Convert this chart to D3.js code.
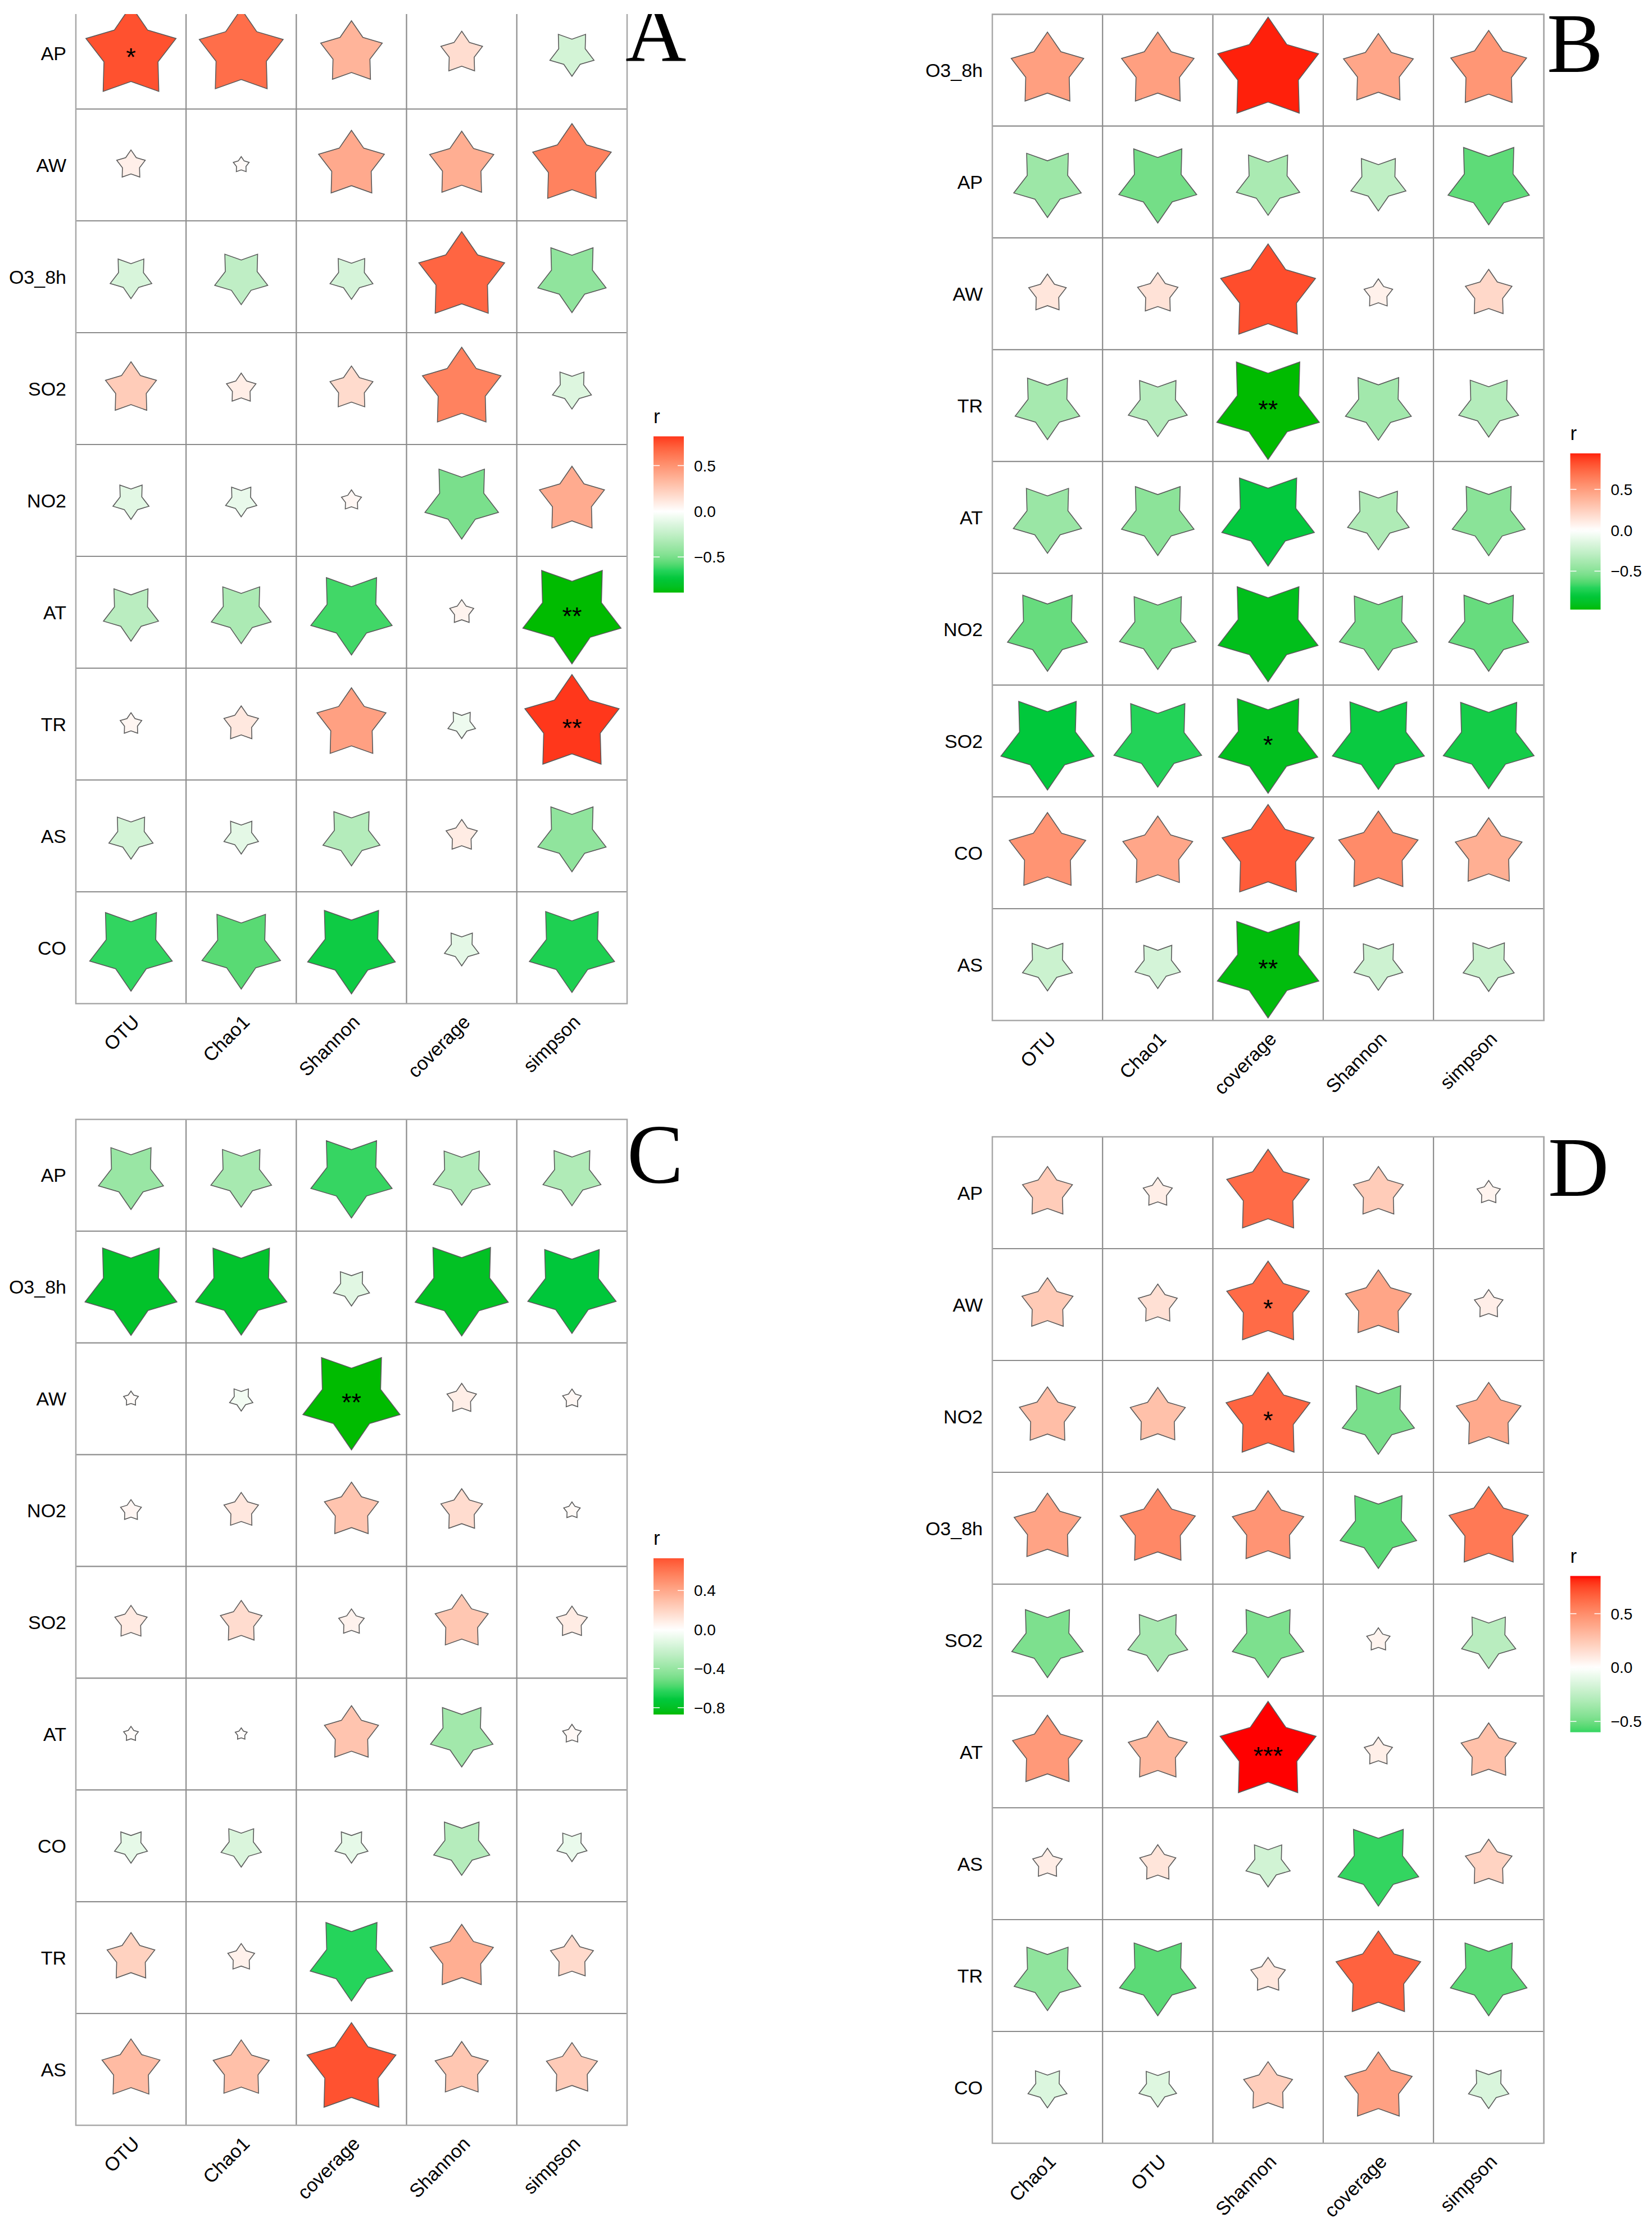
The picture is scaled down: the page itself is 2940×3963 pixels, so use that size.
<!DOCTYPE html>
<html><head><meta charset="utf-8">
<script src="https://cdn.jsdelivr.net/npm/d3@7"></script>
<style>body{margin:0;background:#fff}svg{display:block}</style>
</head><body>
<svg id="chart" width="2940" height="3963"></svg>
<script>
// ---------------- DATA ----------------
const rowsA = ["AP","AW","O3_8h","SO2","NO2","AT","TR","AS","CO"];
const colsA = ["OTU","Chao1","Shannon","coverage","simpson"];
const valuesA = [
  [0.75, 0.65, 0.35, 0.16, -0.18],
  [0.075, 0.023, 0.40, 0.38, 0.57],
  [-0.16, -0.26, -0.17, 0.68, -0.43],
  [0.24, 0.08, 0.17, 0.57, -0.14],
  [-0.12, -0.09, 0.037, -0.50, 0.39],
  [-0.28, -0.33, -0.61, 0.053, -0.89],
  [0.043, 0.11, 0.44, -0.07, 0.82],
  [-0.18, -0.11, -0.30, 0.09, -0.43],
  [-0.63, -0.57, -0.71, -0.11, -0.67]
];
const signifA = [
  ["*","","","",""],["","","","",""],["","","","",""],["","","","",""],["","","","",""],
  ["","","","","**"],["","","","","**"],["","","","",""],["","","","",""]
];
const ticksA = [-0.5, 0, 0.5];

const rowsB = ["O3_8h","AP","AW","TR","AT","NO2","SO2","CO","AS"];
const colsB = ["OTU","Chao1","coverage","Shannon","simpson"];
const valuesB = [
  [0.485, 0.485, 0.94, 0.45, 0.53],
  [-0.42, -0.56, -0.37, -0.28, -0.61],
  [0.13, 0.15, 0.83, 0.075, 0.20],
  [-0.385, -0.32, -0.97, -0.40, -0.33],
  [-0.43, -0.485, -0.79, -0.35, -0.49],
  [-0.59, -0.54, -0.92, -0.56, -0.59],
  [-0.80, -0.71, -0.91, -0.78, -0.76],
  [0.54, 0.45, 0.78, 0.58, 0.41],
  [-0.23, -0.19, -0.95, -0.22, -0.24]
];
const signifB = [
  ["","","","",""],["","","","",""],["","","","",""],["","","**","",""],["","","","",""],
  ["","","","",""],["","","*","",""],["","","","",""],["","","**","",""]
];
const ticksB = [-0.5, 0, 0.5];

const rowsC = ["AP","O3_8h","AW","NO2","SO2","AT","CO","TR","AS"];
const colsC = ["OTU","Chao1","coverage","Shannon","simpson"];
const valuesC = [
  [-0.39, -0.34, -0.61, -0.30, -0.31],
  [-0.78, -0.77, -0.12, -0.80, -0.72],
  [0.02, -0.05, -0.87, 0.08, 0.032],
  [0.04, 0.11, 0.27, 0.16, 0.025],
  [0.096, 0.16, 0.06, 0.26, 0.088],
  [0.02, 0.013, 0.27, -0.36, 0.032],
  [-0.10, -0.15, -0.10, -0.29, -0.083],
  [0.21, 0.066, -0.63, 0.37, 0.17],
  [0.31, 0.29, 0.73, 0.26, 0.24]
];
const signifC = [
  ["","","","",""],["","","","",""],["","","**","",""],["","","","",""],["","","","",""],
  ["","","","",""],["","","","",""],["","","","",""],["","","","",""]
];
const ticksC = [-0.8, -0.4, 0, 0.4];

const rowsD = ["AP","AW","NO2","O3_8h","SO2","AT","AS","TR","CO"];
const colsD = ["Chao1","OTU","Shannon","coverage","simpson"];
const valuesD = [
  [0.23, 0.078, 0.63, 0.23, 0.05],
  [0.24, 0.14, 0.63, 0.40, 0.075],
  [0.29, 0.28, 0.65, -0.48, 0.385],
  [0.41, 0.52, 0.47, -0.54, 0.58],
  [-0.47, -0.33, -0.47, 0.05, -0.27],
  [0.45, 0.32, 0.85, 0.073, 0.28],
  [0.08, 0.12, -0.18, -0.60, 0.20],
  [-0.41, -0.54, 0.11, 0.66, -0.54],
  [-0.14, -0.13, 0.22, 0.42, -0.15]
];
const signifD = [
  ["","","","",""],["","","*","",""],["","","*","",""],["","","","",""],["","","","",""],
  ["","","***","",""],["","","","",""],["","","","",""],["","","","",""]
];
const ticksD = [-0.5, 0, 0.5];

// ---------------- STYLE / LAYOUT ----------------
const HIGH = "#ff0000", MID = "#ffffff";
const greenStops = [0, 0.3, 0.55, 0.72, 0.82, 1];
const greenColors = ["#ffffff", "#bdeec3", "#7ee08f", "#26d45c", "#00c83c", "#00bb00"];
const SANS = "'Liberation Sans', Arial, Helvetica, sans-serif";
const SERIF = "'Liberation Serif', 'Times New Roman', serif";

const panels = [
  {id:"A", rows:rowsA, cols:colsA, values:valuesA, sig:signifA, ticks:ticksA,
   x0:135, x1:1116, y0:-5, y1:1786, letterX:1113, letterY:108, clipTop:25},
  {id:"B", rows:rowsB, cols:colsB, values:valuesB, sig:signifB, ticks:ticksB,
   x0:1766, x1:2747.5, y0:25.5, y1:1816, letterX:2753, letterY:128},
  {id:"C", rows:rowsC, cols:colsC, values:valuesC, sig:signifC, ticks:ticksC,
   x0:135, x1:1116, y0:1992, y1:3782, letterX:1116, letterY:2105},
  {id:"D", rows:rowsD, cols:colsD, values:valuesD, sig:signifD, ticks:ticksD,
   x0:1766, x1:2747.5, y0:2023, y1:3814, letterX:2755, letterY:2128}
];

const svg = d3.select("#chart");
svg.append("rect").attr("width",2940).attr("height",3963).attr("fill","#fff");
const defs = svg.append("defs");

const redRamp = d3.scaleLinear().domain([0, 1]).range([MID, HIGH]).interpolate(d3.interpolateLab).clamp(true);
const greenRamp = d3.scaleLinear().domain(greenStops).range(greenColors).interpolate(d3.interpolateLab).clamp(true);

function starPath(R, ratio, up) {
  const pts = [];
  for (let i = 0; i < 10; i++) {
    const a = (-90 + i * 36 + (up ? 0 : 180)) * Math.PI / 180;
    const rad = i % 2 === 0 ? R : R * ratio;
    pts.push([rad * Math.cos(a), rad * Math.sin(a)]);
  }
  return d3.line()(pts) + "Z";
}

function fmtTick(v) {
  const s = d3.format(".1f")(Math.abs(v));
  return (v < 0 ? "\u2212" : "") + s;
}

panels.forEach(p => {
  const all = p.values.flat();
  const vmin = d3.min(all), vmax = d3.max(all);
  const extent = Math.max(Math.abs(vmin), Math.abs(vmax));
  const color = r => r >= 0 ? redRamp(r / extent) : greenRamp(-r / extent);

  const x = d3.scaleBand().domain(p.cols).range([p.x0, p.x1]).padding(0);
  const y = d3.scaleBand().domain(p.rows).range([p.y0, p.y1]).padding(0);
  const size = d3.scaleSqrt().domain([0, 1]).range([0, Math.min(x.bandwidth(), y.bandwidth()) * 0.496]);

  const g = svg.append("g").attr("class", "panel" + p.id);
  if (p.clipTop !== undefined) {
    defs.append("clipPath").attr("id", "clip" + p.id)
      .append("rect").attr("x", 0).attr("y", p.clipTop).attr("width", 1470).attr("height", 2000);
    g.attr("clip-path", "url(#clip" + p.id + ")");
  }

  const cells = [];
  p.rows.forEach((rn, i) => p.cols.forEach((cn, j) => cells.push({row: rn, col: cn, r: p.values[i][j], s: p.sig[i][j]})));

  // tiles
  g.append("g").selectAll("rect").data(cells).join("rect")
    .attr("x", d => x(d.col)).attr("y", d => y(d.row))
    .attr("width", x.bandwidth()).attr("height", y.bandwidth())
    .attr("fill", "#fff").attr("stroke", "#8c8c8c").attr("stroke-width", 2);
  // outer border
  g.append("rect").attr("x", p.x0).attr("y", p.y0).attr("width", p.x1 - p.x0).attr("height", p.y1 - p.y0)
    .attr("fill", "none").attr("stroke", "#a8a8a8").attr("stroke-width", 2.5);

  // stars
  g.append("g").selectAll("path").data(cells).join("path")
    .attr("transform", d => `translate(${x(d.col) + x.bandwidth() / 2},${y(d.row) + y.bandwidth() / 2})`)
    .attr("d", d => starPath(size(Math.abs(d.r)), 0.6, d.r >= 0))
    .attr("fill", d => color(d.r))
    .attr("stroke", "#5a5a5a").attr("stroke-width", 1.6).attr("stroke-linejoin", "miter");

  // significance
  g.append("g").selectAll("text").data(cells.filter(d => d.s)).join("text")
    .attr("x", d => x(d.col) + x.bandwidth() / 2)
    .attr("y", d => y(d.row) + y.bandwidth() / 2 + 22)
    .attr("text-anchor", "middle").attr("font-family", SANS).attr("font-size", 45)
    .attr("fill", "#000").text(d => d.s);

  // row labels
  g.append("g").selectAll("text").data(p.rows).join("text")
    .attr("x", p.x0 - 17).attr("y", d => y(d) + y.bandwidth() / 2 + 12)
    .attr("text-anchor", "end").attr("font-family", SANS).attr("font-size", 34).attr("fill", "#000")
    .text(d => d);

  // column labels
  g.append("g").selectAll("text").data(p.cols).join("text")
    .attr("transform", d => `translate(${x(d) + x.bandwidth() / 2},${p.y1 + 18}) rotate(-45)`)
    .attr("dy", 24)
    .attr("text-anchor", "end").attr("font-family", SANS).attr("font-size", 34).attr("fill", "#000")
    .text(d => d);

  // panel letter
  g.append("text").attr("x", p.letterX).attr("y", p.letterY)
    .attr("font-family", SERIF).attr("font-size", 150).attr("fill", "#000").text(p.id);

  // legend
  const barH = 278, barW = 54;
  const mid = (p.y0 + p.y1) / 2 + 25;
  const bx = p.x1 + 47, by = mid - barH / 2;
  const ly = d3.scaleLinear().domain([vmin, vmax]).range([by + barH, by]);
  const gid = "grad" + p.id;
  const grad = defs.append("linearGradient").attr("id", gid)
    .attr("x1", 0).attr("y1", 1).attr("x2", 0).attr("y2", 0);
  d3.range(0, 1.0001, 0.02).forEach(t => {
    const v = vmin + t * (vmax - vmin);
    grad.append("stop").attr("offset", t).attr("stop-color", color(v));
  });
  const lg = svg.append("g").attr("class", "legend" + p.id);
  lg.append("text").attr("x", bx).attr("y", by - 24)
    .attr("font-family", SANS).attr("font-size", 35).attr("fill", "#000").text("r");
  lg.append("rect").attr("x", bx).attr("y", by).attr("width", barW).attr("height", barH)
    .attr("fill", `url(#${gid})`);
  p.ticks.forEach(t => {
    const ty = ly(t);
    lg.append("line").attr("x1", bx).attr("x2", bx + 11).attr("y1", ty).attr("y2", ty)
      .attr("stroke", "#fff").attr("stroke-width", 1.5);
    lg.append("line").attr("x1", bx + barW - 11).attr("x2", bx + barW).attr("y1", ty).attr("y2", ty)
      .attr("stroke", "#fff").attr("stroke-width", 1.5);
    lg.append("text").attr("x", bx + barW + 18).attr("y", ty + 10)
      .attr("font-family", SANS).attr("font-size", 28).attr("fill", "#000").text(fmtTick(t));
  });
});
</script>
</body></html>
